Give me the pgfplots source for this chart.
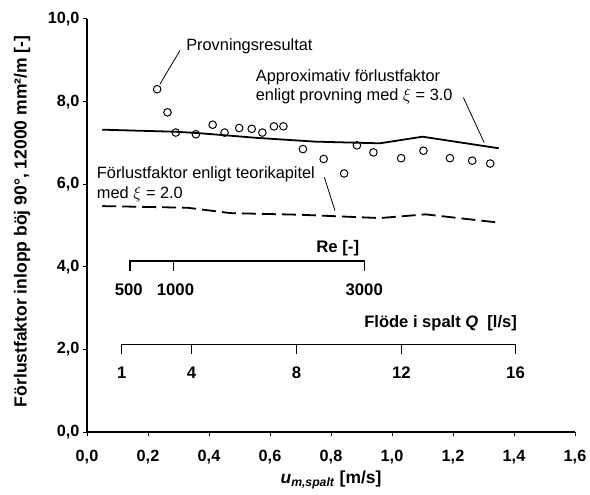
\documentclass[border=0pt]{standalone}
\usepackage{fontspec}
\setmainfont{Liberation Sans}
\usepackage{pgfplots}
\pgfplotsset{compat=1.18}
\begin{document}
\begin{tikzpicture}
\begin{axis}[
  scale only axis, width=488bp, height=413bp,
  xmin=0, xmax=1.6, ymin=0, ymax=10,
  axis lines=left, axis line style={line width=1.3pt, -},
  xtick={0,0.2,0.4,0.6,0.8,1.0,1.2,1.4,1.6},
  ytick={0,2,4,6,8,10},
  tick align=outside, major tick length=4bp,
  tick style={line width=1pt, black},
  /pgf/number format/.cd, use comma, fixed, fixed zerofill, precision=1, assume math mode=true,
  /pgfplots/.cd,
  ticklabel style={font=\fontsize{16.3}{19}\selectfont\bfseries},
  xticklabel style={yshift=-11bp},
  clip=false,
  xlabel={\textbf{\textit{u}\textsubscript{\textit{m,spalt}} [m/s]}},
  xlabel style={font=\fontsize{17.5}{20}\selectfont, at={(axis description cs:0.5,-0.116)}, anchor=center},
  ylabel={\textbf{Förlustfaktor inlopp böj 90°, 12000 mm²/m [-]}},
  ylabel style={font=\fontsize{17.6}{20}\selectfont, at={(axis description cs:-0.133,0.51)}, anchor=center},
]
\coordinate (BL) at (rel axis cs:0,0);
\coordinate (TR) at (rel axis cs:1,1);
% test results
\addplot[only marks, mark=o, mark size=3.8bp, mark options={line width=1pt, black}] coordinates {
 (0.230,8.30) (0.264,7.74) (0.291,7.25) (0.357,7.21) (0.412,7.44) (0.451,7.25)
 (0.499,7.36) (0.540,7.34) (0.575,7.25) (0.613,7.40) (0.644,7.40) (0.708,6.85)
 (0.776,6.61) (0.843,6.26) (0.885,6.94) (0.939,6.77) (1.030,6.63) (1.103,6.81)
 (1.190,6.63) (1.263,6.57) (1.322,6.50)
};
% approximate loss factor, xi = 3.0
\addplot[black, line width=1.8pt] coordinates {
 (0.05,7.32) (0.29,7.27) (0.36,7.24) (0.56,7.12) (0.75,7.03) (0.96,6.99) (1.10,7.15) (1.35,6.87)
};
% theory, xi = 2.0
\addplot[black, line width=1.8pt, dash pattern=on 14bp off 6bp] coordinates {
 (0.05,5.47) (0.33,5.43) (0.47,5.30) (0.70,5.26) (0.96,5.18) (1.11,5.27) (1.35,5.07)
};
% annotations
\node[anchor=west, inner sep=0, font=\fontsize{16.4}{19}\selectfont] at (axis cs:0.325,9.34) {Provningsresultat};
\draw[line width=0.8pt] (axis cs:0.305,9.24) -- (axis cs:0.239,8.42);
\node[anchor=west, inner sep=0, font=\fontsize{16.4}{19}\selectfont] at (axis cs:0.553,8.59) {Approximativ förlustfaktor};
\node[anchor=west, inner sep=0, font=\fontsize{16.4}{19}\selectfont] at (axis cs:0.553,8.13) {enligt provning med $\xi$ = 3.0};
\draw[line width=0.8pt] (axis cs:1.234,8.10) -- (axis cs:1.302,7.01);
\node[anchor=west, inner sep=0, font=\fontsize{16.4}{19}\selectfont] at (axis cs:0.032,6.25) {Förlustfaktor enligt teorikapitel};
\node[anchor=west, inner sep=0, font=\fontsize{16.4}{19}\selectfont] at (axis cs:0.032,5.77) {med $\xi$ = 2.0};
\draw[line width=0.8pt] (axis cs:0.778,6.17) -- (axis cs:0.813,5.36);
% Re scale
\draw[line width=1.3pt] (axis cs:0.141,3.91) -- (axis cs:0.141,4.14) -- (axis cs:0.909,4.14) -- (axis cs:0.909,3.91);
\draw[line width=1.3pt] (axis cs:0.283,4.14) -- (axis cs:0.283,3.91);
\node[font=\fontsize{16.8}{19}\selectfont\bfseries] at (axis cs:0.822,4.44) {Re [-]};
\node[font=\fontsize{16.8}{19}\selectfont\bfseries] at (axis cs:0.137,3.45) {500};
\node[font=\fontsize{16.8}{19}\selectfont\bfseries] at (axis cs:0.290,3.45) {1000};
\node[font=\fontsize{16.8}{19}\selectfont\bfseries] at (axis cs:0.909,3.45) {3000};
% Q scale
\draw[line width=1.3pt] (axis cs:0.114,1.88) -- (axis cs:0.114,2.12) -- (axis cs:1.405,2.12) -- (axis cs:1.405,1.88);
\draw[line width=1.3pt] (axis cs:0.343,2.12) -- (axis cs:0.343,1.88);
\draw[line width=1.3pt] (axis cs:0.687,2.12) -- (axis cs:0.687,1.88);
\draw[line width=1.3pt] (axis cs:1.031,2.12) -- (axis cs:1.031,1.88);
\node[anchor=east, inner sep=0, font=\fontsize{16.6}{19}\selectfont\bfseries] at (axis cs:1.41,2.63) {Flöde i spalt \textit{Q}\ \ [l/s]};
\node[font=\fontsize{16.8}{19}\selectfont\bfseries] at (axis cs:0.114,1.43) {1};
\node[font=\fontsize{16.8}{19}\selectfont\bfseries] at (axis cs:0.343,1.43) {4};
\node[font=\fontsize{16.8}{19}\selectfont\bfseries] at (axis cs:0.687,1.43) {8};
\node[font=\fontsize{16.8}{19}\selectfont\bfseries] at (axis cs:1.031,1.43) {12};
\node[font=\fontsize{16.8}{19}\selectfont\bfseries] at (axis cs:1.405,1.43) {16};
\end{axis}
\pgfresetboundingbox
\path[use as bounding box] ([xshift=-87bp,yshift=-63bp]BL) rectangle ([xshift=15bp,yshift=19bp]TR);
\end{tikzpicture}
\end{document}
